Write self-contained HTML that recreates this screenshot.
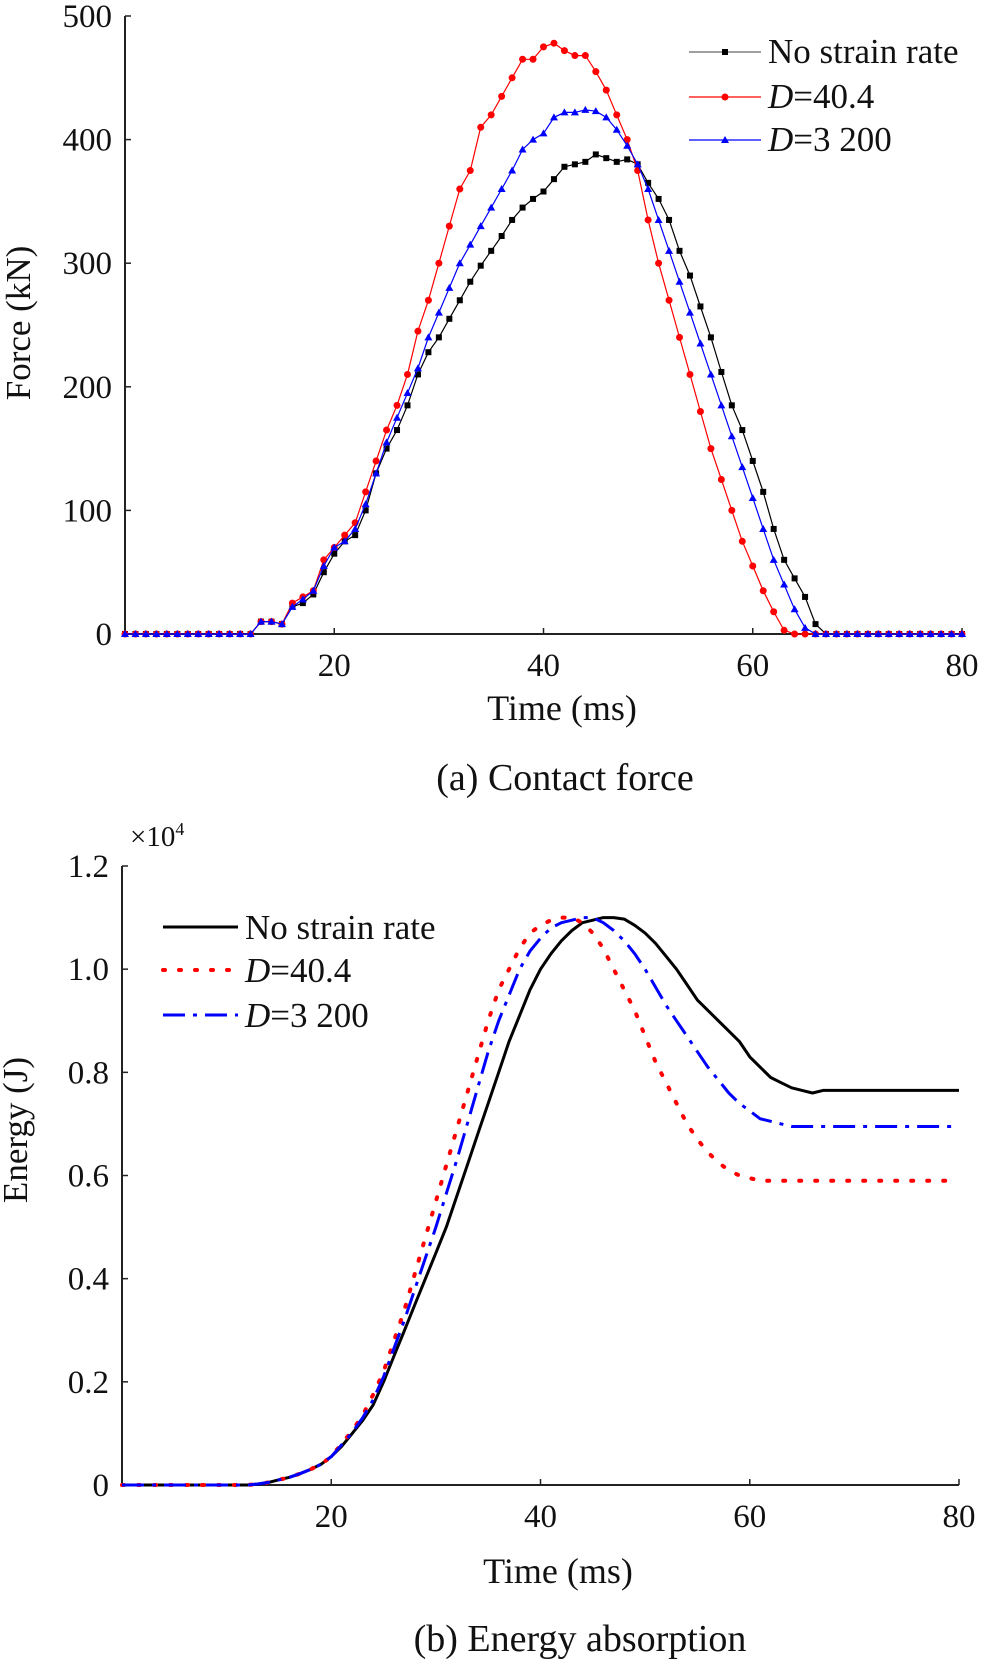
<!DOCTYPE html>
<html><head><meta charset="utf-8"><style>
html,body{margin:0;padding:0;background:#fff;}
svg{display:block;font-family:"Liberation Serif",serif;}
</style></head>
<body>
<svg id="fig" width="983" height="1664" viewBox="0 0 983 1664"></svg>
<script>
const times = Array.from({length:81},(_,i)=>i);
const xTicks = [20,40,60,80];
const forceTicks = [0,100,200,300,400,500];
const energyTicks = [0,0.2,0.4,0.6,0.8,1.0,1.2];
const energyTickLabels = ["0","0.2","0.4","0.6","0.8","1.0","1.2"];
const seriesNames = ["No strain rate","D=40.4","D=3 200"];
const forceNoRate = [0,0,0,0,0,0,0,0,0,0,0,0,0,10,10,8,22,25,32,50,65,75,80,100,130,150,165,185,210,228,240,255,270,285,298,310,322,335,345,352,358,368,378,380,382,388,385,382,384,380,365,352,335,310,290,265,240,212,185,165,140,115,85,60,45,30,8,0,0,0,0,0,0,0,0,0,0,0,0,0,0];
const forceD404 = [0,0,0,0,0,0,0,0,0,0,0,0,0,10,10,8,25,30,35,60,70,80,90,115,140,165,185,210,245,270,300,330,360,375,410,420,435,450,465,465,475,478,472,468,468,455,440,420,400,375,335,300,270,240,210,180,150,125,100,75,55,35,18,3,0,0,0,0,0,0,0,0,0,0,0,0,0,0,0,0,0];
const forceD3200 = [0,0,0,0,0,0,0,0,0,0,0,0,0,10,10,8,22,28,35,55,70,75,85,105,130,155,175,195,215,240,260,280,300,315,330,345,360,375,392,400,405,418,422,422,424,423,418,408,395,380,360,335,310,285,260,235,210,185,160,135,110,85,60,40,20,5,0,0,0,0,0,0,0,0,0,0,0,0,0,0,0];
const energyNoRate = [0,0,0,0,0,0,0,0,0,0,0,0,0,0.002,0.005,0.01,0.015,0.022,0.03,0.04,0.055,0.075,0.1,0.125,0.155,0.2,0.25,0.3,0.35,0.4,0.45,0.5,0.56,0.62,0.68,0.74,0.8,0.86,0.91,0.96,1.0,1.03,1.055,1.075,1.09,1.095,1.1,1.1,1.097,1.085,1.07,1.05,1.025,1.0,0.97,0.94,0.92,0.9,0.88,0.86,0.83,0.81,0.79,0.78,0.77,0.765,0.76,0.765,0.765,0.765,0.765,0.765,0.765,0.765,0.765,0.765,0.765,0.765,0.765,0.765,0.765];
const energyD404 = [0,0,0,0,0,0,0,0,0,0,0,0,0,0.002,0.005,0.01,0.015,0.022,0.03,0.04,0.055,0.08,0.105,0.135,0.175,0.22,0.28,0.34,0.41,0.48,0.55,0.62,0.69,0.76,0.83,0.9,0.96,1.0,1.04,1.07,1.085,1.095,1.1,1.1,1.09,1.07,1.04,1.0,0.96,0.92,0.87,0.82,0.78,0.74,0.7,0.67,0.645,0.625,0.61,0.6,0.595,0.59,0.59,0.59,0.59,0.59,0.59,0.59,0.59,0.59,0.59,0.59,0.59,0.59,0.59,0.59,0.59,0.59,0.59,0.59,0.59];
const energyD3200 = [0,0,0,0,0,0,0,0,0,0,0,0,0,0.002,0.005,0.01,0.015,0.022,0.03,0.04,0.055,0.078,0.102,0.13,0.165,0.21,0.265,0.32,0.38,0.44,0.5,0.565,0.63,0.7,0.77,0.84,0.9,0.95,1.0,1.035,1.06,1.08,1.09,1.095,1.1,1.1,1.09,1.075,1.055,1.03,1.0,0.965,0.93,0.9,0.87,0.84,0.81,0.785,0.76,0.74,0.725,0.71,0.705,0.7,0.695,0.695,0.695,0.695,0.695,0.695,0.695,0.695,0.695,0.695,0.695,0.695,0.695,0.695,0.695,0.695,0.695];

const NS="http://www.w3.org/2000/svg";
const svg=document.getElementById('fig');
function mk(tag,attrs,parent){const e=document.createElementNS(NS,tag);for(const k in attrs)e.setAttribute(k,attrs[k]);(parent||svg).appendChild(e);return e;}
function txt(x,y,s,size,anchor,parent){const t=mk('text',{x:x,y:y,'font-size':size,'text-anchor':anchor||'middle',fill:'#111'},parent);t.textContent=s;return t;}

const ax0=125, ax1=962, ay0=634, ay1=16;
const axX=t=>ax0+(t/80)*(ax1-ax0);
const axY=v=>ay0-(v/500)*(ay0-ay1);
const bx0=122, bx1=959, by0=1485, by1=866;
const bxX=t=>bx0+(t/80)*(bx1-bx0);
const byY=v=>by0-(v/1.2)*(by0-by1);

// ---- Chart A ----
const gA=mk('g',{});


const axA=mk('path',{d:`M${ax0} ${ay1}V${ay0}H${ax1}`,stroke:'#222','stroke-width':2,fill:'none'},gA);


forceTicks.forEach(v=>{
  mk('line',{x1:ax0,x2:ax0+6,y1:axY(v),y2:axY(v),stroke:'#222','stroke-width':1.5},gA);
  const l=txt(ax0-13,axY(v)+11,String(v),33,'end',gA);
  
  
});
xTicks.forEach(v=>{
  mk('line',{x1:axX(v),x2:axX(v),y1:ay0,y2:ay0-6,stroke:'#222','stroke-width':1.5},gA);
  const l=txt(axX(v),ay0+42,String(v),33,'middle',gA);
  
  
});
const tA=txt(562,720,'Time (ms)',36,'middle',gA);


const yA=txt(0,0,'Force (kN)',35,'middle',gA);
yA.setAttribute('transform','translate(30 323) rotate(-90)');


const capA=txt(565,790,'(a) Contact force',38,'middle',gA);



const forceSeries=[forceNoRate,forceD404,forceD3200];
const colorsA=['#000','#f00','#00f'];
const markerA=['square','circle','triangle'];
function marker(type,x,y,c,g){
  if(type==='square')return mk('rect',{x:x-3,y:y-3,width:6,height:6,fill:c},g);
  if(type==='circle')return mk('circle',{cx:x,cy:y,r:3.5,fill:c},g);
  return mk('path',{d:`M${x} ${y-4}L${x+4} ${y+3}L${x-4} ${y+3}Z`,fill:c},g);
}
forceSeries.forEach((arr,si)=>{
  const g=mk('g',{},gA);
  
  
  const d=arr.map((v,i)=>(i?'L':'M')+axX(times[i]).toFixed(1)+' '+axY(v).toFixed(1)).join('');
  mk('path',{d:d,stroke:colorsA[si],'stroke-width':1.2,fill:'none'},g);
  arr.forEach((v,i)=>{
    const m=marker(markerA[si],axX(times[i]),axY(v),colorsA[si],g);
    
    
  });
});
const legA=mk('g',{},gA);


[48,93,136].forEach((y,i)=>{
  mk('line',{x1:689,x2:761,y1:y+4,y2:y+4,stroke:i===0?'#666':colorsA[i],'stroke-width':1.3},legA);
  marker(markerA[i],725,y+4,colorsA[i],legA);
  const t=mk('text',{x:768,y:y+15,'font-size':35,fill:'#111'},legA);
  if(i===0)t.textContent=seriesNames[0];
  else{const it=mk('tspan',{'font-style':'italic'},t);it.textContent='D';const r=mk('tspan',{},t);r.textContent=seriesNames[i].slice(1);}
  
  
});

// ---- Chart B ----
const gB=mk('g',{});


const axB=mk('path',{d:`M${bx0} ${by1}V${by0}H${bx1}`,stroke:'#222','stroke-width':2,fill:'none'},gB);


energyTicks.forEach((v,i)=>{
  mk('line',{x1:bx0,x2:bx0+6,y1:byY(v),y2:byY(v),stroke:'#222','stroke-width':1.5},gB);
  const l=txt(bx0-13,byY(v)+11,energyTickLabels[i],33,'end',gB);
  
  
});
xTicks.forEach(v=>{
  mk('line',{x1:bxX(v),x2:bxX(v),y1:by0,y2:by0-6,stroke:'#222','stroke-width':1.5},gB);
  const l=txt(bxX(v),by0+42,String(v),33,'middle',gB);
  
  
});
const exp=mk('text',{x:130,y:846,'font-size':29,fill:'#111'},gB);
exp.textContent='×10';
const sup=mk('tspan',{'font-size':18,dy:-11},exp);sup.textContent='4';


const tB=txt(558,1583,'Time (ms)',36,'middle',gB);


const yB=txt(0,0,'Energy (J)',35,'middle',gB);
yB.setAttribute('transform','translate(27 1130) rotate(-90)');


const capB=txt(580,1651,'(b) Energy absorption',38,'middle',gB);



const energySeries=[energyNoRate,energyD404,energyD3200];
const dashB=['none','2 14','22 8 4 8'];
const widthB=[3,4,3];
energySeries.forEach((arr,si)=>{
  const d=arr.map((v,i)=>(i?'L':'M')+bxX(times[i]).toFixed(1)+' '+byY(v).toFixed(1)).join('');
  const p=mk('path',{d:d,stroke:colorsA[si],'stroke-width':widthB[si],fill:'none','stroke-dasharray':dashB[si],'stroke-linecap':si===1?'round':'butt','stroke-linejoin':'round'},gB);
  
  
});
const legB=mk('g',{},gB);


[927,970,1015].forEach((y,i)=>{
  mk('line',{x1:163,x2:238,y1:y,y2:y,stroke:colorsA[i],'stroke-width':widthB[i],'stroke-dasharray':dashB[i],'stroke-linecap':i===1?'round':'butt'},legB);
  const t=mk('text',{x:245,y:y+12,'font-size':35,fill:'#111'},legB);
  if(i===0)t.textContent=seriesNames[0];
  else{const it=mk('tspan',{'font-style':'italic'},t);it.textContent='D';const r=mk('tspan',{},t);r.textContent=seriesNames[i].slice(1);}
  
  
});
</script>
</body></html>
